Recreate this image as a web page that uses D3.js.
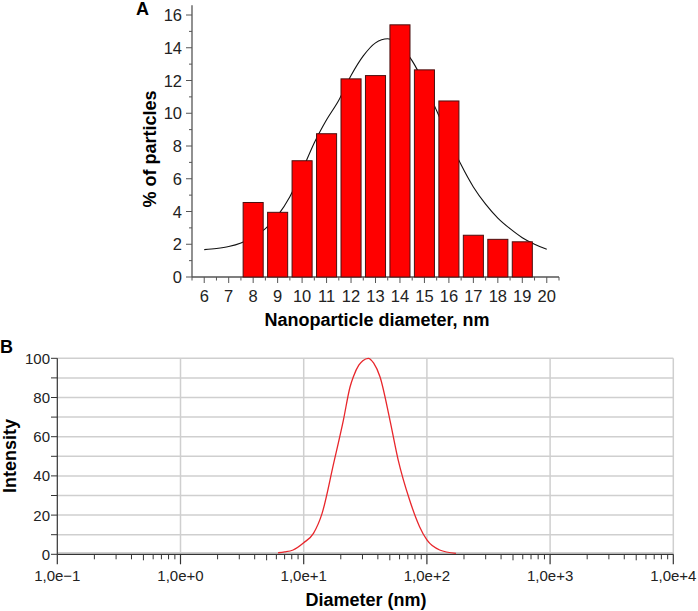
<!DOCTYPE html>
<html><head><meta charset="utf-8">
<script src="https://cdn.jsdelivr.net/npm/d3@7"></script>
<style>
body{margin:0;background:#fff;}
svg{display:block;font-family:"Liberation Sans",Arial,sans-serif;}
</style></head><body>
<svg id="c" width="698" height="611"></svg>
<script>
// Panel A: histogram
const sizesA = [8, 9, 10, 11, 12, 13, 14, 15, 16, 17, 18, 19];
const percentA = [4.55, 3.95, 7.1, 8.75, 12.1, 12.3, 15.4, 12.65, 10.75, 2.55, 2.3, 2.15];
// Panel A: fitted curve
const fitX = [6, 6.5, 7, 7.5, 8, 8.5, 9, 9.5, 10, 10.5, 11, 11.5, 12, 12.5, 13, 13.5, 14, 14.5, 15, 15.5, 16, 16.5, 17, 17.5, 18, 18.5, 19, 19.5, 20];
const fitY = [1.67, 1.74, 1.86, 2.08, 2.45, 2.95, 3.75, 4.9, 6.5, 8.2, 9.6, 10.8, 12.3, 13.5, 14.3, 14.55, 14.15, 13.2, 11.8, 10.15, 8.45, 6.85, 5.5, 4.45, 3.6, 2.95, 2.4, 2.0, 1.7];
const xTicksA = [6, 7, 8, 9, 10, 11, 12, 13, 14, 15, 16, 17, 18, 19, 20];
const yTicksA = [0, 2, 4, 6, 8, 10, 12, 14, 16];

// Panel B: intensity distribution
const diamB = [6.2, 7, 8.2, 10, 12, 14.1, 17.5, 21, 23.8, 25.3, 28, 30.2, 33.4, 37, 41.6, 50.1, 58.5, 72.4, 87.2, 100, 127, 172];
const intB = [0.8, 1.2, 2.2, 5.9, 10.7, 20.9, 46.4, 68.5, 85.5, 90.6, 96.5, 98.8, 100, 97.5, 90.6, 68.5, 48.1, 27.7, 14.1, 7.3, 2.2, 0.5];
const xTicksB = [0.1, 1, 10, 100, 1000, 10000];
const xLabelsB = ["1,0e\u22121", "1,0e+0", "1,0e+1", "1,0e+2", "1,0e+3", "1,0e+4"];
const yTicksB = [0, 20, 40, 60, 80, 100];

const svg = d3.select("#c");
const axisCol = "#555";

// ---------- Panel A ----------
const xA = d3.scaleLinear().domain([5.5, 20.5]).range([192, 559]);
const yA = d3.scaleLinear().domain([0, 16]).range([277, 15]);
const gA = svg.append("g");

gA.append("line").attr("x1", 192).attr("x2", 192).attr("y1", yA(16.6)).attr("y2", 277).attr("stroke", axisCol).attr("stroke-width", 1.3);
gA.append("line").attr("x1", 192).attr("x2", 559).attr("y1", 277).attr("y2", 277).attr("stroke", axisCol).attr("stroke-width", 1.3);

d3.range(0, 17, 1).forEach(v => {
  const major = v % 2 === 0;
  gA.append("line").attr("x1", 192).attr("x2", 192 - (major ? 6 : 3)).attr("y1", yA(v)).attr("y2", yA(v)).attr("stroke", axisCol).attr("stroke-width", 1);
});
gA.selectAll(".yl").data(yTicksA).join("text").attr("x", 182).attr("y", d => yA(d) + 6)
  .attr("text-anchor", "end").attr("font-size", 16.5).attr("fill", "#222").text(d => d);

d3.range(5.5, 20.6, 0.5).forEach(v => {
  const major = Math.abs(v - Math.round(v)) < 1e-6;
  gA.append("line").attr("x1", xA(v)).attr("x2", xA(v)).attr("y1", 277).attr("y2", 277 + (major ? 6 : 3.5)).attr("stroke", axisCol).attr("stroke-width", 1);
});
gA.selectAll(".xl").data(xTicksA).join("text").attr("x", d => xA(d)).attr("y", 302)
  .attr("text-anchor", "middle").attr("font-size", 16.5).attr("fill", "#222").text(d => d);

const bw = (xA(1) - xA(0)) * 0.82;
gA.selectAll("rect.bar").data(sizesA).join("rect").attr("class", "bar")
  .attr("x", (d) => xA(d) - bw / 2).attr("width", bw)
  .attr("y", (d, i) => yA(percentA[i])).attr("height", (d, i) => 277 - yA(percentA[i]))
  .attr("fill", "#ff0000").attr("stroke", "#4a1010").attr("stroke-width", 1);

const fitLine = d3.line().x(d => xA(d[0])).y(d => yA(d[1])).curve(d3.curveMonotoneX);
gA.insert("path", "rect.bar").datum(fitX.map((x, i) => [x, fitY[i]])).attr("d", fitLine)
  .attr("fill", "none").attr("stroke", "#111").attr("stroke-width", 1.1);

gA.append("text").attr("x", 136).attr("y", 15).attr("font-size", 18).attr("font-weight", "bold").text("A");
gA.append("text").attr("transform", "translate(156,149) rotate(-90)").attr("text-anchor", "middle")
  .attr("font-size", 18).attr("font-weight", "bold").text("% of particles");
gA.append("text").attr("x", 377).attr("y", 326).attr("text-anchor", "middle")
  .attr("font-size", 18).attr("font-weight", "bold").text("Nanoparticle diameter, nm");

// ---------- Panel B ----------
const xB = d3.scaleLog().domain([0.1, 10000]).range([57.3, 673.3]);
const yB = d3.scaleLinear().domain([0, 100]).range([554.3, 358.3]);
const gB = svg.append("g");
const gridCol = "#cfcfcf";

d3.range(10, 101, 10).forEach(v => {
  gB.append("line").attr("x1", 57.3).attr("x2", 673.3).attr("y1", yB(v)).attr("y2", yB(v)).attr("stroke", gridCol).attr("stroke-width", 1.5);
});
xTicksB.slice(1).forEach(v => {
  gB.append("line").attr("x1", xB(v)).attr("x2", xB(v)).attr("y1", yB(100)).attr("y2", yB(0)).attr("stroke", gridCol).attr("stroke-width", 1.5);
});
gB.append("line").attr("x1", 57.3).attr("x2", 673.3).attr("y1", yB(0) - 1.5).attr("y2", yB(0) - 1.5).attr("stroke", gridCol).attr("stroke-width", 1.5);

gB.append("line").attr("x1", 57.3).attr("x2", 57.3).attr("y1", yB(100)).attr("y2", yB(0)).attr("stroke", "#333").attr("stroke-width", 1.2);
gB.append("line").attr("x1", 57.3).attr("x2", 673.3).attr("y1", yB(0)).attr("y2", yB(0)).attr("stroke", "#333").attr("stroke-width", 1.2);

d3.range(0, 101, 10).forEach(v => {
  gB.append("line").attr("x1", 57.3).attr("x2", 51).attr("y1", yB(v)).attr("y2", yB(v)).attr("stroke", "#333").attr("stroke-width", 1);
});
gB.selectAll(".ylb").data(yTicksB).join("text").attr("x", 50).attr("y", d => yB(d) + 5.5)
  .attr("text-anchor", "end").attr("font-size", 15).attr("fill", "#222").text(d => d);

for (let e = -1; e < 4; e++) {
  for (let m = 2; m <= 9; m++) {
    const v = m * Math.pow(10, e);
    gB.append("line").attr("x1", xB(v)).attr("x2", xB(v)).attr("y1", yB(0)).attr("y2", yB(0) + (m === 5 ? 6 : 5)).attr("stroke", "#333").attr("stroke-width", 1);
  }
}
xTicksB.forEach(v => {
  gB.append("line").attr("x1", xB(v)).attr("x2", xB(v)).attr("y1", yB(0)).attr("y2", yB(0) + 10).attr("stroke", "#333").attr("stroke-width", 1.2);
});
gB.selectAll(".xlb").data(xTicksB).join("text").attr("x", d => xB(d)).attr("y", 581)
  .attr("text-anchor", "middle").attr("font-size", 15).attr("fill", "#222").text((d, i) => xLabelsB[i]);

const lineB = d3.line().x(d => xB(d[0])).y(d => yB(d[1])).curve(d3.curveMonotoneX);
gB.append("path").datum(diamB.map((x, i) => [x, intB[i]])).attr("d", lineB)
  .attr("fill", "none").attr("stroke", "#e8262b").attr("stroke-width", 1.3);

gB.append("text").attr("x", 0).attr("y", 353).attr("font-size", 18).attr("font-weight", "bold").text("B");
gB.append("text").attr("transform", "translate(16,456) rotate(-90)").attr("text-anchor", "middle")
  .attr("font-size", 18).attr("font-weight", "bold").text("Intensity");
gB.append("text").attr("x", 366).attr("y", 606).attr("text-anchor", "middle")
  .attr("font-size", 18).attr("font-weight", "bold").text("Diameter (nm)");
</script>
</body></html>
